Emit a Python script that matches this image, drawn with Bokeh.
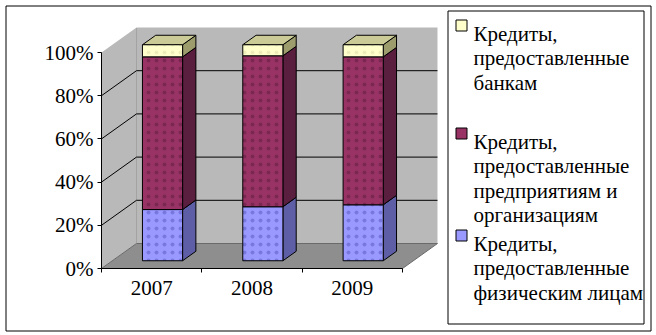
from bokeh.plotting import figure
from bokeh.models import Range1d, LinearAxis, FixedTicker
from bokeh.core.properties import value
from bokeh.embed import file_html
from bokeh.resources import INLINE

# ---------------- data ----------------
years = ["2007", "2008", "2009"]
individuals = [23.7, 25.0, 25.9]      # Кредиты, предоставленные физическим лицам
enterprises = [70.7, 69.9, 68.5]      # Кредиты, предоставленные предприятиям и организациям
banks = [5.6, 5.1, 5.6]               # Кредиты, предоставленные банкам
y_ticks = [0, 20, 40, 60, 80, 100]
y_tick_labels = ["0%", "20%", "40%", "60%", "80%", "100%"]
legend_labels = [
    ["Кредиты,", "предоставленные", "банкам"],
    ["Кредиты,", "предоставленные", "предприятиям и", "организациям"],
    ["Кредиты,", "предоставленные", "физическим лицам"],
]

# ---------------- styles ----------------
front_colors = ["#9999ff", "#993366", "#ffffcc"]
side_colors = ["#5e5ea6", "#5a1f3e", "#9c9c6c"]
dot_colors = ["#7777dd", "#7a2852", "#eeeebb"]
top_color = "#cbcb98"
legend_fill = ["#ffffcc", "#993366", "#9999ff"]
wall_color = "#b9b9b9"
floor_color = "#8e8e8e"
FONT = "Liberation Serif"

# ---------------- layout / projection ----------------
W, H = 656, 335
OX, OY = 101, 268          # pixel position of the front axes origin
SX = 100.33                # px per category
SY = 2.16                  # px per percent
DEPTH_PX = (35, 25)        # pixel offset of the back wall
DX = DEPTH_PX[0] / SX
DY = DEPTH_PX[1] / SY
Z0, Z1 = 0.31, 0.69        # bar depth span
HW = 0.2                   # half bar width (category units)


def X(px):
    return (px - OX) / SX


def Y(py):
    return (OY - py) / SY


def proj(x, y, z):
    return x + z * DX, y + z * DY


def poly(pts):
    xs, ys = zip(*[proj(*p) for p in pts])
    return list(xs), list(ys)


p = figure(width=W, height=H, output_backend="svg", toolbar_location=None,
           x_axis_location=None, y_axis_location=None,
           x_range=Range1d(X(0), X(W)), y_range=Range1d(Y(H), Y(0)),
           min_border=0, outline_line_color=None, background_fill_color="white",
           border_fill_color="white")
p.grid.visible = False

n = len(years)
top_val = max(y_ticks)

# walls and floor
walls = [
    [(0, 0, 1), (n, 0, 1), (n, top_val, 1), (0, top_val, 1)],   # back wall
    [(0, 0, 0), (0, 0, 1), (0, top_val, 1), (0, top_val, 0)],   # side wall
]
wx, wy = zip(*[poly(w) for w in walls])
p.patches(list(wx), list(wy), fill_color=wall_color, line_color=None)
fx, fy = poly([(0, 0, 0), (n, 0, 0), (n, 0, 1), (0, 0, 1)])
p.patch(fx, fy, fill_color=floor_color, line_color="#6a6a6a", line_width=1)

# corner edge of walls
cx, cy = poly([(0, 0, 1), (0, top_val, 1)])
p.line(cx, cy, line_color="#7a7a7a", line_width=1, line_dash="1 1")

# gridlines on walls
gxs, gys = [], []
for v in y_ticks[1:-1]:
    gx, gy = poly([(0, v, 0), (0, v, 1), (n, v, 1)])
    gxs.append(gx)
    gys.append(gy)
p.multi_line(gxs, gys, line_color="black", line_width=1)

# bars
series = [individuals, enterprises, banks]
front_x, front_y, front_c, front_d = [], [], [], []
side_x, side_y, side_c = [], [], []
top_x, top_y = [], []
for i in range(n):
    c = i + 0.5
    total = sum(s[i] for s in series)
    bottom = 0.0
    for k, s in enumerate(series):
        t = bottom + s[i] / total * 100.0
        fxs, fys = poly([(c - HW, bottom, Z0), (c + HW, bottom, Z0), (c + HW, t, Z0), (c - HW, t, Z0)])
        front_x.append(fxs); front_y.append(fys); front_c.append(front_colors[k]); front_d.append(dot_colors[k])
        sxs, sys_ = poly([(c + HW, bottom, Z0), (c + HW, bottom, Z1), (c + HW, t, Z1), (c + HW, t, Z0)])
        side_x.append(sxs); side_y.append(sys_); side_c.append(side_colors[k])
        bottom = t
    txs, tys = poly([(c - HW, bottom, Z0), (c + HW, bottom, Z0), (c + HW, bottom, Z1), (c - HW, bottom, Z1)])
    top_x.append(txs); top_y.append(tys)

p.patches(side_x, side_y, fill_color=side_c, line_color="black", line_width=1)
p.patches(top_x, top_y, fill_color=top_color, line_color="black", line_width=1)
p.patches(front_x, front_y, fill_color=front_c, line_color="black", line_width=1,
          hatch_pattern="dot", hatch_color=front_d, hatch_scale=8, hatch_weight=0.6)

# axes
yaxis = LinearAxis(fixed_location=0, bounds=(0, top_val),
                   ticker=FixedTicker(ticks=y_ticks, minor_ticks=[]),
                   major_label_overrides=dict(zip(y_ticks, y_tick_labels)),
                   major_tick_out=4, major_tick_in=0, minor_tick_out=0, minor_tick_in=0,
                   major_label_standoff=4,
                   major_label_text_font=FONT, major_label_text_font_size="21px",
                   major_label_text_color="black",
                   axis_line_color="black", major_tick_line_color="black")
p.add_layout(yaxis, "left")

centers = [i + 0.5 for i in range(n)]
xaxis = LinearAxis(fixed_location=0, bounds=(0, n),
                   ticker=FixedTicker(ticks=centers, minor_ticks=list(range(n + 1))),
                   major_label_overrides=dict(zip(centers, years)),
                   major_tick_out=0, major_tick_in=0, minor_tick_out=4, minor_tick_in=0,
                   major_label_standoff=8,
                   major_label_text_font=FONT, major_label_text_font_size="21px",
                   major_label_text_color="black",
                   axis_line_color="black", minor_tick_line_color="black")
p.add_layout(xaxis, "below")

# outer border
p.quad(left=X(5.5), right=X(650.5), top=Y(5.5), bottom=Y(330.5),
       fill_color=None, line_color="black", line_width=1)

# legend
p.quad(left=X(447.5), right=X(643.5), top=Y(10.5), bottom=Y(323.5),
       fill_color="white", line_color="black", line_width=1)
item_tops = [19, 127, 229]
LINE_PITCH = 24.5
sq_l, sq_r, sq_t, sq_b = [], [], [], []
tx, ty, tt = [], [], []
for k, lines in enumerate(legend_labels):
    t0 = item_tops[k]
    sq_l.append(X(455.5)); sq_r.append(X(466.5)); sq_t.append(Y(t0 + 0.5)); sq_b.append(Y(t0 + 11.5))
    for j, line in enumerate(lines):
        tx.append(X(473))
        ty.append(Y(t0 + 14 + j * LINE_PITCH))
        tt.append(line)
p.quad(left=sq_l, right=sq_r, top=sq_t, bottom=sq_b, fill_color=legend_fill,
       line_color="black", line_width=1)
p.text(x=tx, y=ty, text=tt, text_font=value(FONT), text_font_size="21px",
       text_color="black", text_align="left", text_baseline="alphabetic")

open("out.html", "w").write(file_html(p, INLINE))
